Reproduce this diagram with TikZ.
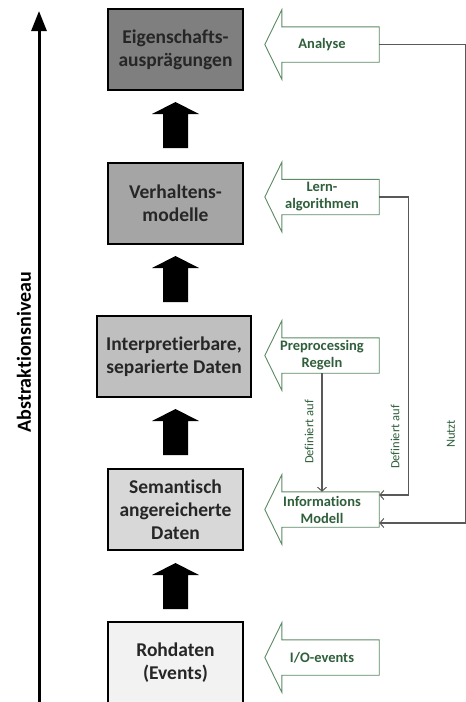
\documentclass[tikz,border=0pt]{standalone}
\usepackage{fontspec}
\setmainfont{Carlito}[Ligatures={NoCommon}]
\usetikzlibrary{arrows.meta,calc}

\definecolor{boxtext}{HTML}{262626}
\definecolor{gtxt}{HTML}{2F5F3B}
\definecolor{gedge}{HTML}{5C8A64}
\definecolor{conncol}{HTML}{595959}
\definecolor{lvlA}{HTML}{7F7F7F}
\definecolor{lvlB}{HTML}{A5A5A5}
\definecolor{lvlC}{HTML}{BFBFBF}
\definecolor{lvlD}{HTML}{D8D8D8}
\definecolor{lvlE}{HTML}{F2F2F2}

\tikzset{
  level/.style={draw=black, line width=2pt, text=boxtext, align=center,
    font=\bfseries\fontsize{19.5}{23}\selectfont, inner sep=0pt,
    minimum width=135pt, minimum height=81pt},
  gbody/.style={inner sep=0pt, minimum width=97pt, minimum height=35pt},
  gshape/.style={draw=gedge, line width=0.9pt, fill=white},
  gtext/.style={text=gtxt, align=center, inner sep=0pt,
    font=\bfseries\fontsize{14.5}{17}\selectfont},
  conn/.style={draw=conncol, line width=1.2pt,
    -{Straight Barb[length=4pt,width=9pt,line width=1pt]}},
  sidelabel/.style={text=gtxt, rotate=90, inner sep=0pt,
    font=\fontsize{12.5}{15}\selectfont},
  uparrow/.pic={
    \fill[black] (-12.5pt,0pt) -- (-12.5pt,34pt) -- (-23.5pt,34pt) -- (0pt,46pt)
      -- (23.5pt,34pt) -- (12.5pt,34pt) -- (12.5pt,0pt) -- cycle;
  }
}

\begin{document}
\begin{tikzpicture}[x=1pt, y=-1pt]
\useasboundingbox (0,0) rectangle (466,702);

% abstraction axis
\coordinate (axbot) at (39,710);
\coordinate (axtop) at (39,11);
\draw[line width=3pt, -{Triangle[length=20pt,width=15pt]}] (axbot) -- (axtop);
\node[rotate=90, inner sep=0pt, text=black,
      font=\bfseries\fontsize{20}{24}\selectfont] (axlabel) at (24,352) {Abstraktionsniveau};

% abstraction levels
\node[level, fill=lvlA] (eig) at (175.5,49.5) {Eigenschafts-\\ausprägungen};
\node[level, fill=lvlB] (verh) at (175.5,203) {Verhaltens-\\modelle};
\node[level, fill=lvlC, minimum width=154pt] (interp) at (174,356.5) {Interpretierbare,\\separierte Daten};
\node[level, fill=lvlD] (sem) at (175.5,509.5) {Semantisch\\angereicherte\\Daten};
\node[level, fill=lvlE] (roh) at (175.5,662.5) {Rohdaten\\(Events)};

% block arrows between levels
\pic (up1) at (175.5,148) {uparrow};
\pic (up2) at (175.5,302) {uparrow};
\pic (up3) at (175.5,455) {uparrow};
\pic (up4) at (175.5,609) {uparrow};

% green input arrows (body nodes, outline drawn around them)
\node[gbody] (ana)  at (330.5,44.5)  {};
\node[gbody] (lern) at (330.5,197)   {};
\node[gbody] (pre)  at (330.5,355.5) {};
\node[gbody] (info) at (330.5,509.5) {};
\node[gbody] (io)   at (330.5,657.5) {};
\foreach \a in {ana,lern,pre,info,io}{
  \draw[gshape] (\a.north east) -- (\a.north west) -- ([yshift=17pt]\a.north west)
    -- ([xshift=-17pt]\a.west) -- ([yshift=-17pt]\a.south west)
    -- (\a.south west) -- (\a.south east) -- cycle;
}
\node[gtext] (anaT)  at ([xshift=-8.5pt]ana.center)  {Analyse};
\node[gtext] (lernT) at ([xshift=-8.5pt]lern.center) {Lern-\\algorithmen};
\node[gtext] (preT)  at ([xshift=-8.5pt]pre.center)  {Preprocessing\\Regeln};
\node[gtext] (infoT) at ([xshift=-8.5pt]info.center) {Informations\\Modell};
\node[gtext] (ioT)   at ([xshift=-8.5pt]io.center)   {I/O-events};

% relations to the information model
\draw[conn] ([xshift=-8.5pt]pre.south) -- ([xshift=-8.5pt]info.north);
\draw[conn] (lern.east) -- ++(29pt,0pt) |- ([yshift=14.5pt]info.east);
\draw[conn] (ana.east) -- ++(86pt,0pt) |- ([yshift=-13.5pt]info.east);

\node[sidelabel] (defA) at (309,432) {Definiert auf};
\node[sidelabel] (defB) at (395,437) {Definiert auf};
\node[sidelabel] (nutzt) at (451,434) {Nutzt};
\end{tikzpicture}
\end{document}
